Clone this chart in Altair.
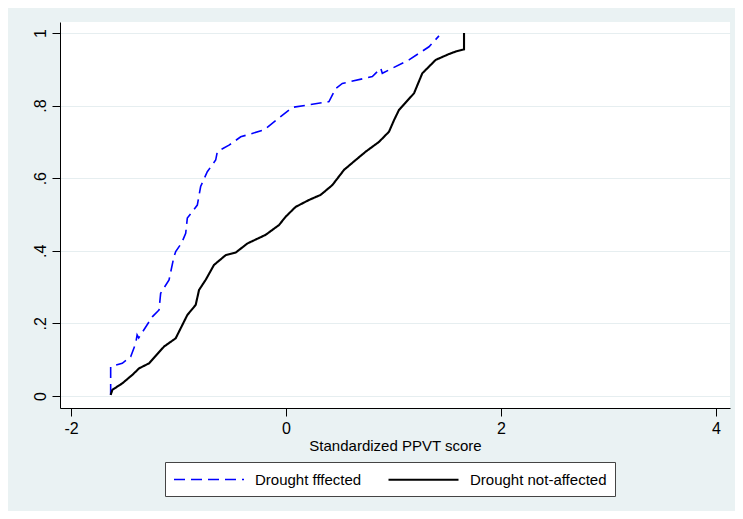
import altair as alt
import pandas as pd

groups = ["Drought fffected", "Drought not-affected"]

aff_x = [-1.631, -1.631, -1.523, -1.445, -1.398, -1.385, -1.37, -1.244, -1.181,
         -1.166, -1.088, -1.042, -1.026, -0.97, -0.933, -0.918, -0.825, -0.794,
         -0.732, -0.654, -0.639, -0.53, -0.421, -0.205, 0.059, 0.4, 0.462, 0.524,
         0.803, 0.881, 0.896, 1.144, 1.33, 1.423]
aff_y = [0.003, 0.081, 0.09, 0.108, 0.145, 0.168, 0.16, 0.218, 0.237,
         0.283, 0.32, 0.384, 0.398, 0.422, 0.448, 0.49, 0.526, 0.577,
         0.618, 0.65, 0.673, 0.691, 0.714, 0.733, 0.795, 0.811, 0.847, 0.861,
         0.88, 0.903, 0.889, 0.926, 0.962, 0.992]

not_x = [-1.631, -1.615, -1.522, -1.43, -1.367, -1.274, -1.135, -1.026, -0.918,
         -0.84, -0.809, -0.747, -0.67, -0.561, -0.468, -0.36, -0.189, -0.065,
         -0.003, 0.09, 0.214, 0.322, 0.431, 0.54, 0.648, 0.741, 0.865, 0.958,
         1.005, 1.051, 1.191, 1.268, 1.393, 1.516, 1.579, 1.656, 1.656]
not_y = [0.003, 0.017, 0.035, 0.058, 0.076, 0.09, 0.136, 0.159, 0.223,
         0.251, 0.292, 0.32, 0.361, 0.388, 0.395, 0.42, 0.444, 0.471,
         0.494, 0.521, 0.54, 0.554, 0.581, 0.623, 0.65, 0.673, 0.7, 0.728,
         0.76, 0.788, 0.834, 0.889, 0.926, 0.942, 0.949, 0.955, 1.0]

y_ticks = [0, 0.2, 0.4, 0.6, 0.8, 1]
x_ticks = [-2, 0, 2, 4]

rows = []
for i, (x, y) in enumerate(zip(aff_x, aff_y)):
    rows.append({"score": x, "cdf": y, "group": groups[0], "idx": i})
for i, (x, y) in enumerate(zip(not_x, not_y)):
    rows.append({"score": x, "cdf": y, "group": groups[1], "idx": i})
df = pd.DataFrame(rows)

FONT = "Liberation Sans"

legend_def = dict(
    title=None,
    orient="none",
    legendX=105,
    legendY=440,
    direction="horizontal",
    symbolType="M-4.375,0H4.375",
    symbolSize=256,
    symbolOffset=27,
    symbolStrokeWidth=1.6,
    labelFont=FONT,
    labelFontSize=15,
    labelColor="#000000",
    labelOffset=37,
    labelLimit=300,
    columnPadding=22,
    padding=8,
    strokeColor="#444444",
    fillColor="#ffffff",
    cornerRadius=0,
)

chart = alt.Chart(df).mark_line().encode(
    x=alt.X(
        "score:Q",
        scale=alt.Scale(domain=[-2.1023, 4.1302], nice=False, zero=False),
        axis=alt.Axis(
            values=x_ticks,
            title="Standardized PPVT score",
            grid=False,
            labelFontSize=16,
            labelPadding=4,
            labelExpr="datum.value < 0 ? '-' + format(-datum.value, 'd') : format(datum.value, 'd')",
            titleFontSize=15,
            titlePadding=2,
        ),
    ),
    y=alt.Y(
        "cdf:Q",
        scale=alt.Scale(domain=[-0.0331, 1.0303], nice=False, zero=False),
        axis=alt.Axis(
            values=y_ticks,
            title=None,
            grid=True,
            gridColor="#E6EEF0",
            gridWidth=1,
            labelAngle=270,
            labelAlign="center",
            labelBaseline="alphabetic",
            labelFontSize=16,
            labelPadding=7,
            labelExpr="datum.value == 0 ? '0' : datum.value == 1 ? '1' : slice(format(datum.value, '.1f'), 1)",
        ),
    ),
    color=alt.Color(
        "group:N",
        scale=alt.Scale(domain=groups, range=["#0000ff", "#000000"]),
        legend=alt.Legend(**legend_def),
    ),
    strokeDash=alt.StrokeDash(
        "group:N",
        scale=alt.Scale(domain=groups, range=[[11, 6], [1, 0]]),
        legend=alt.Legend(**legend_def),
    ),
    strokeWidth=alt.StrokeWidth(
        "group:N",
        scale=alt.Scale(domain=groups, range=[1.6, 2.1]),
        legend=None,
    ),
    order=alt.Order("idx:Q"),
).properties(
    width=670,
    height=386,
    background="#EAF2F3",
    padding={"left": 52, "top": 14, "right": 5, "bottom": 103},
    autosize=alt.AutoSizeParams(type="none"),
).configure_view(
    stroke=None,
    fill="#ffffff",
).configure_axis(
    labelFont=FONT,
    titleFont=FONT,
    labelColor="#000000",
    titleColor="#000000",
    titleFontWeight="normal",
    domainColor="#000000",
    tickColor="#000000",
    domainWidth=1,
    tickWidth=1,
    tickSize=8,
)

chart.save("out.html", embed_options={"renderer": "svg", "actions": False})
